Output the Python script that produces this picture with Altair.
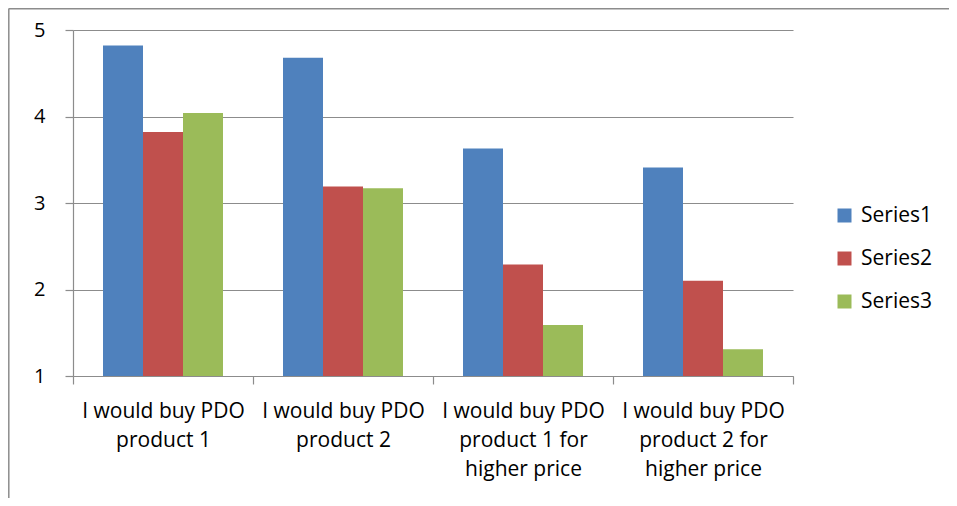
import altair as alt
import pandas as pd

categories = [
    "I would buy PDO|product 1",
    "I would buy PDO|product 2",
    "I would buy PDO|product 1 for|higher price",
    "I would buy PDO|product 2 for|higher price",
]
series = ["Series1", "Series2", "Series3"]
series1 = [4.82, 4.68, 3.63, 3.41]
series2 = [3.82, 3.19, 2.29, 2.10]
series3 = [4.04, 3.17, 1.59, 1.31]
colors = ["#4F81BD", "#C0504D", "#9BBB59"]
y_ticks = [1, 2, 3, 4, 5]

rows = []
for s, vals in zip(series, [series1, series2, series3]):
    for c, v in zip(categories, vals):
        rows.append({"category": c, "series": s, "value": v})
df = pd.DataFrame(rows)

GRAY = "#8c8c8c"
FONT = "Open Sans"

bars = alt.Chart(df).mark_bar().encode(
    x=alt.X(
        "category:N",
        sort=categories,
        scale=alt.Scale(paddingInner=0, paddingOuter=0),
        axis=alt.Axis(
            title=None,
            labelAngle=0,
            labelExpr="split(datum.label, '|')",
            tickBand="extent",
            tickSize=8,
            labelPadding=16,
            labelLineHeight=29,
            labelFontSize=21,
            grid=False,
        ),
    ),
    xOffset=alt.XOffset(
        "series:N", sort=series, scale=alt.Scale(paddingInner=0, paddingOuter=0.75)
    ),
    y=alt.Y(
        "value:Q",
        scale=alt.Scale(domain=[1, 5], zero=False, nice=False),
        axis=alt.Axis(
            values=y_ticks,
            title=None,
            tickSize=8,
            labelPadding=20,
            grid=True,
        ),
    ),
    y2=alt.datum(1),
    color=alt.Color(
        "series:N",
        scale=alt.Scale(domain=series, range=colors),
        legend=alt.Legend(
            title=None,
            orient="none",
            legendX=761,
            legendY=175,
            symbolType="square",
            symbolSize=196,
            symbolStrokeWidth=0,
            labelFontSize=21,
            labelFont=FONT,
            labelColor="#000",
            labelOffset=6,
            rowPadding=21,
            padding=0,
        ),
    ),
)

border = alt.Data(values=[{"k": 1}])
border_left = alt.Chart(border).mark_rule(color=GRAY, strokeWidth=1.5).encode(
    x=alt.value(-64.2), y=alt.value(-21.5), y2=alt.value(468)
)
border_top = alt.Chart(border).mark_rule(color=GRAY, strokeWidth=1.5).encode(
    x=alt.value(-64.2), x2=alt.value(876), y=alt.value(-21.2)
)

chart = (
    alt.layer(bars, border_left, border_top)
    .properties(
        width=720,
        height=346,
        autosize=alt.AutoSizeParams(type="none"),
        padding={"left": 65, "top": 22, "right": 156, "bottom": 122},
    )
    .configure_view(stroke=None)
    .configure_axis(
        domainColor=GRAY,
        tickColor=GRAY,
        gridColor=GRAY,
        domainWidth=1.2,
        tickWidth=1.2,
        gridWidth=1.2,
        labelFont=FONT,
        labelFontSize=20,
        labelColor="#000",
    )
)

chart.save("out.html", embed_options={"renderer": "svg", "actions": False})
